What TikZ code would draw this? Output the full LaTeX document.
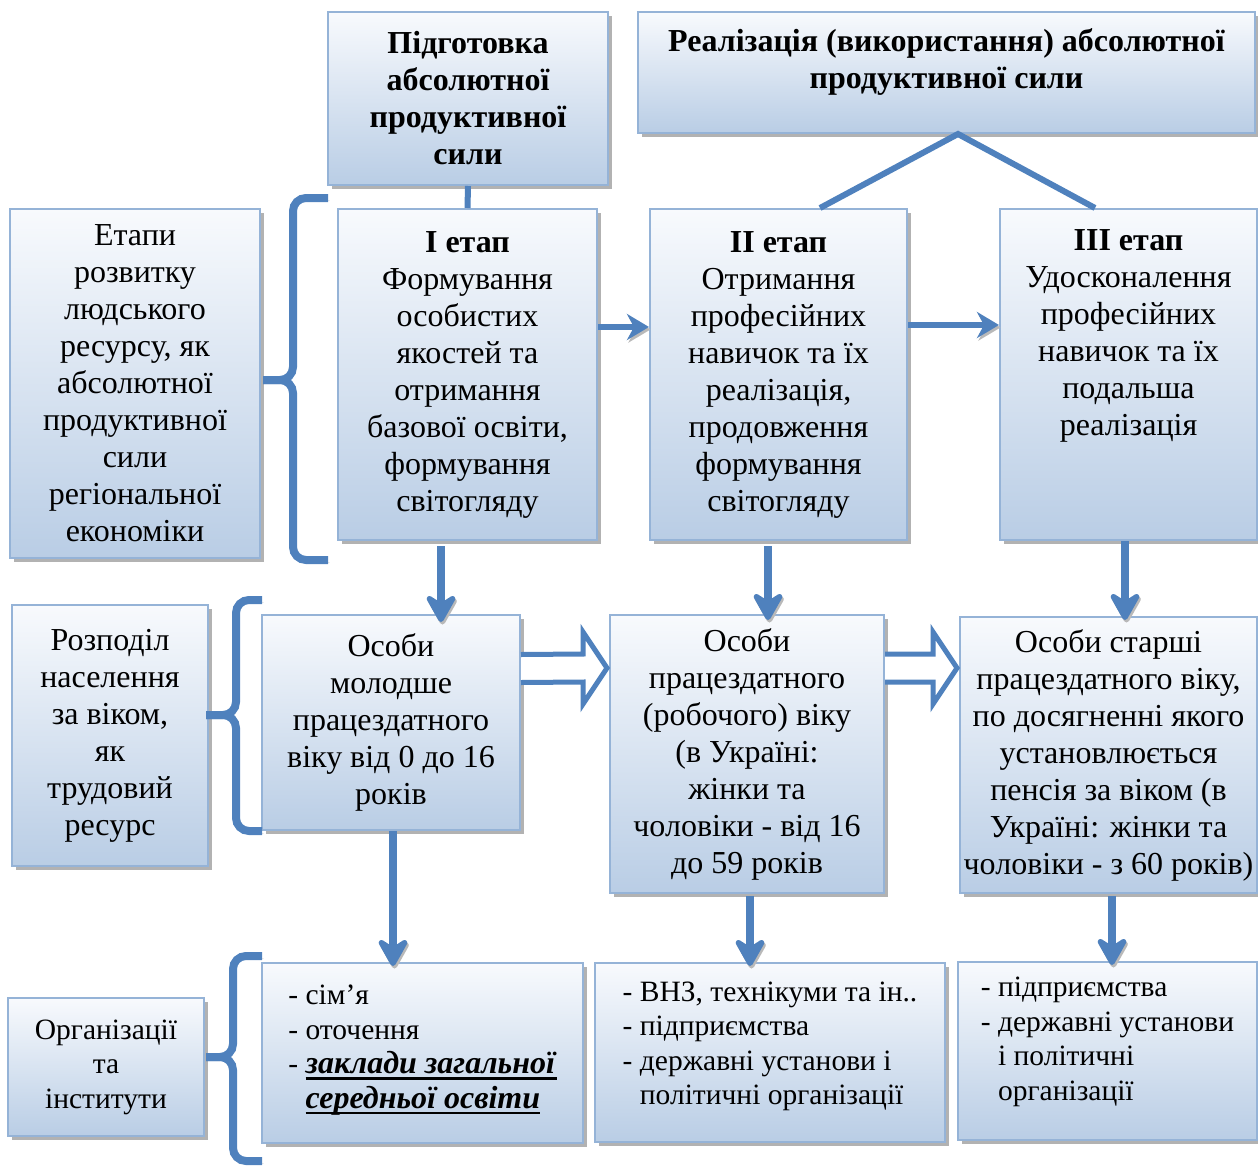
\documentclass[tikz,border=0pt]{standalone}
\usepackage{fontspec}
\setmainfont{Liberation Serif}
\usetikzlibrary{arrows.meta,shadows,calc}
\definecolor{acc}{HTML}{4F81BD}
\definecolor{bord}{HTML}{95B3D7}
\definecolor{topc}{HTML}{F8FAFD}
\definecolor{botc}{HTML}{B9CDE5}
\newcommand\myul[1]{\setbox0\hbox{#1}\rlap{\rule[-6pt]{\wd0}{2.5pt}}\box0}
\tikzset{
  box/.style={draw=bord, line width=2pt, top color=topc, bottom color=botc,
    align=center, inner sep=2pt, font=\fontsize{32}{37}\selectfont,
    drop shadow={shadow xshift=4pt, shadow yshift=-4pt, fill=gray!60, opacity=1}},
  sbox/.style={box, font=\fontsize{29.5}{34.5}\selectfont},
  lbox/.style={sbox, align=left},
  shad/.style={preaction={draw=gray!55, transform canvas={shift={(1.5pt,-2.5pt)}}}},
  conn/.style={acc, line width=6pt},
  harrow/.style={acc, line width=6pt, shad, -{Stealth[length=22pt,width=26pt,inset=7pt]}},
  darrow/.style={acc, line width=8pt, shad, -{Stealth[length=34pt,width=38pt,inset=12pt,round]}},
  hollow/.style={draw=acc, line width=5pt, fill=white, line join=miter},
  brace/.style={acc, line width=8pt, rounded corners=13pt, shad},
}
\begin{document}
\begin{tikzpicture}[x=1pt,y=-1pt]
\useasboundingbox (0,0) rectangle (1258,1167);

% top row
\node[box, font=\bfseries\fontsize{32}{37}\selectfont, minimum width=280pt, minimum height=173pt] (T1) at (468,98.5)
  {Підготовка\\абсолютної\\продуктивної\\сили};
\node[box, font=\bfseries\fontsize{32}{37}\selectfont, minimum width=617pt, minimum height=121pt] (T2) at (946.5,72.5)
  {Реалізація (використання) абсолютної\\продуктивної сили\\[-10pt]\mbox{}};

% stages row
\node[box, minimum width=250pt, minimum height=349pt] (L1) at (135,383.5)
  {Етапи\\розвитку\\людського\\ресурсу, як\\абсолютної\\продуктивної\\сили\\регіональної\\економіки};
\node[box, minimum width=259pt, minimum height=331pt] (S1) at (467.5,374.5)
  {\textbf{I етап}\\Формування\\особистих\\якостей та\\отримання\\базової освіти,\\формування\\світогляду};
\node[box, minimum width=257pt, minimum height=331pt] (S2) at (778.5,374.5)
  {\textbf{II етап}\\Отримання\\професійних\\навичок та їх\\реалізація,\\продовження\\формування\\світогляду};
\node[box, minimum width=257pt, minimum height=331pt] (S3) at (1128.5,374.5)
  {\textbf{III етап}\\Удосконалення\\професійних\\навичок та їх\\подальша\\реалізація\\[46pt]\mbox{}};

% age row
\node[box, minimum width=196pt, minimum height=261pt] (L2) at (110,735.5)
  {Розподіл\\населення\\за віком,\\як\\трудовий\\ресурс};
\node[box, minimum width=258pt, minimum height=215pt] (A) at (391,722.5)
  {Особи\\молодше\\працездатного\\віку від 0 до 16\\років};
\node[box, minimum width=274pt, minimum height=278pt] (B) at (747,754)
  {Особи\\працездатного\\(робочого) віку\\(в Україні:\\жінки та\\чоловіки - від 16\\до 59 років};
\node[box, minimum width=297pt, minimum height=276pt] (C) at (1108.5,755)
  {Особи старші\\працездатного віку,\\по досягненні якого\\установлюється\\пенсія за віком (в\\Україні: жінки та\\чоловіки - з 60 років)};

% organisations row
\node[sbox, minimum width=196pt, minimum height=138pt] (L3) at (106,1067)
  {Організації\\та\\інститути};
\node[lbox, minimum width=321pt, minimum height=180pt] (RA) at (422.5,1053)
  {- сім’я\\- оточення\\- \myul{\fontsize{32}{34.5}\selectfont\textbf{\textit{заклади загальної}}}\\\phantom{- }\myul{\fontsize{32}{34.5}\selectfont\textbf{\textit{середньої освіти}}}\\[-22pt]\mbox{}};
\node[lbox, minimum width=350pt, minimum height=179pt] (RB) at (770,1052.5)
  {- ВНЗ, технікуми та ін..\\- підприємства\\- державні установи і\\\phantom{- }політичні організації\\[-16pt]\mbox{}};
\node[lbox, minimum width=299pt, minimum height=178pt] (RC) at (1107.5,1051)
  {- підприємства\\- державні установи\\\phantom{- }і політичні\\\phantom{- }організації\\[-10pt]\mbox{}};

% connectors top
\draw[conn] (T1.south) -- (S1.north);
\coordinate (apex) at ($(T2.south)+(11.5,0)$);
\draw[conn, line join=miter] ($(S2.north)+(41.5,0)$) -- (apex) -- ($(S3.north)+(-33.5,0)$);

% stage arrows
\draw[harrow] ($(S1.east)+(0,-47.5)$) -- ($(S2.west)+(0,-47.5)$);
\draw[harrow] ($(S2.east)+(0,-49.5)$) -- ($(S3.west)+(0,-49.5)$);

% down arrows
\draw[darrow] ($(S1.south)+(-26.5,5)$) -- ($(A.north)+(50,8)$);
\draw[darrow] ($(S2.south)+(-10.5,5)$) -- ($(B.north)+(21,6)$);
\draw[darrow] ($(S3.south)+(-3.5,0)$) -- ($(C.north)+(16.5,4)$);
\draw[darrow] ($(A.south)+(2,0)$) -- ($(RA.north)+(-29.5,4)$);
\draw[darrow] ($(B.south)+(3,2)$) -- ($(RB.north)+(-20,4)$);
\draw[darrow] ($(C.south)+(3.5,2)$) -- ($(RC.north)+(4.5,4)$);

% hollow block arrows
\coordinate (ab1) at ($(A.east)+(0,-54)$);
\coordinate (ab2) at ($(B.west)+(-2,-86)$);
\draw[hollow] ($(ab1)+(0,-14)$) -- ($(ab2)+(-24,-14)$) -- ($(ab2)+(-24,-36)$) -- (ab2)
  -- ($(ab2)+(-24,36)$) -- ($(ab2)+(-24,14)$) -- ($(ab1)+(0,14)$);
\coordinate (bc1) at ($(B.east)+(0,-86)$);
\coordinate (bc2) at ($(C.west)+(-2,-87)$);
\draw[hollow] ($(bc1)+(0,-14)$) -- ($(bc2)+(-24,-14)$) -- ($(bc2)+(-24,-36)$) -- (bc2)
  -- ($(bc2)+(-24,36)$) -- ($(bc2)+(-24,14)$) -- ($(bc1)+(0,14)$);

% braces
\coordinate (b1) at ($(L1.east)+(2,-3.5)$);
\draw[brace] (328,198) -- (293,198) -- (293,380) -- (b1);
\draw[brace] (b1) -- (293,380) -- (293,560) -- (328,560);
\coordinate (b2) at ($(L2.east)+(-3,-20.5)$);
\draw[brace] (262,600) -- (236,600) -- (236,715) -- (b2);
\draw[brace] (b2) -- (236,715) -- (236,831) -- (262,831);
\coordinate (b3) at ($(L3.east)+(1,-10)$);
\draw[brace] (262,956) -- (233,956) -- (233,1057) -- (b3);
\draw[brace] (b3) -- (233,1057) -- (233,1161) -- (262,1161);
\end{tikzpicture}
\end{document}
